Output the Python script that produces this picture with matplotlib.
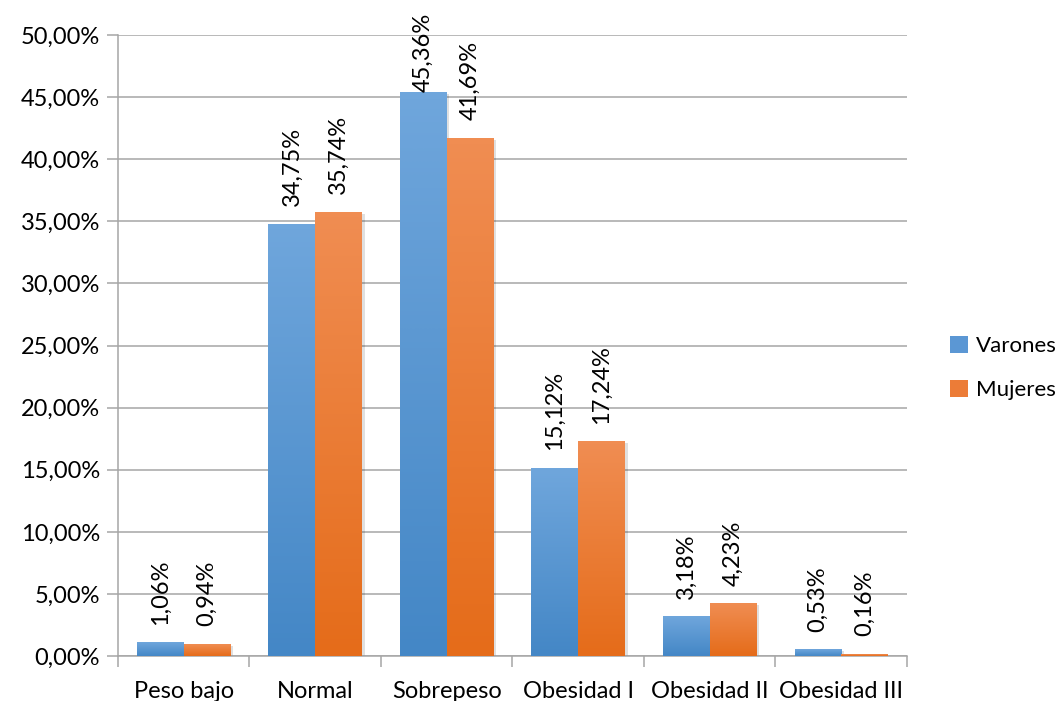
import matplotlib.pyplot as plt
import numpy as np
import matplotlib.patheffects as pe
from matplotlib.colors import LinearSegmentedColormap
from matplotlib.patches import Patch
from matplotlib.ticker import FuncFormatter, MultipleLocator

categorias = ["Peso bajo", "Normal", "Sobrepeso", "Obesidad I", "Obesidad II", "Obesidad III"]
varones = [1.06, 34.75, 45.36, 15.12, 3.18, 0.53]
mujeres = [0.94, 35.74, 41.69, 17.24, 4.23, 0.16]
series = ["Varones", "Mujeres"]

plt.rcParams['font.family'] = ['Lato', 'DejaVu Sans']
fs = 17

azul = LinearSegmentedColormap.from_list("azul", ["#4487c6", "#6fa6dc"])
naranja = LinearSegmentedColormap.from_list("naranja", ["#e56c1a", "#f08d52"])

fig = plt.figure(figsize=(10.62, 7.01), dpi=100)
ax = fig.add_axes([0.111, 0.064, 0.743, 0.886])

x = np.arange(len(categorias))
w = 0.355
grad = np.linspace(0, 1, 64).reshape(-1, 1)

def barras(pos, vals, cmap):
    bars = ax.bar(pos, vals, w, color="white", zorder=2,
                  path_effects=[pe.SimplePatchShadow(offset=(2, -1), shadow_rgbFace="k", alpha=0.12),
                                pe.Normal()])
    for b in bars:
        x0, h = b.get_x(), b.get_height()
        ax.imshow(grad, extent=[x0, x0 + b.get_width(), 0, h], origin="lower",
                  cmap=cmap, aspect="auto", zorder=3, interpolation="bilinear")
    for xi, v in zip(pos, vals):
        ax.text(xi, min(v + 1.45, 45.4), f"{v:.2f}%".replace(".", ","), rotation=90,
                ha="center", va="bottom", fontsize=fs, color="#000000", clip_on=False, zorder=4)
    return bars

barras(x - w / 2, varones, azul)
barras(x + w / 2, mujeres, naranja)

ax.set_xlim(-0.5, len(categorias) - 0.5)
ax.set_ylim(0, 50)
ax.yaxis.set_major_locator(MultipleLocator(5))
ax.yaxis.set_major_formatter(FuncFormatter(lambda v, p: f"{v:.2f}%".replace(".", ",")))
ax.grid(axis="y", color="#a6a6a6", linewidth=1.1, zorder=0)
ax.set_axisbelow(True)

ax.set_xticks(x)
ax.set_xticklabels(categorias)
ax.set_xticks(np.arange(-0.5, len(categorias)), minor=True)
ax.tick_params(axis="x", which="major", length=0, pad=18, labelsize=fs)
ax.tick_params(axis="x", which="minor", length=8, color="#a6a6a6", width=1.1)
ax.tick_params(axis="y", length=8, color="#a6a6a6", width=1.1, labelsize=fs, pad=5)

for s in ["top", "right"]:
    ax.spines[s].set_visible(False)
for s in ["left", "bottom"]:
    ax.spines[s].set_color("#a6a6a6")
    ax.spines[s].set_linewidth(1.1)

handles = [Patch(facecolor="#5b97d4", edgecolor="none"), Patch(facecolor="#ec7c37", edgecolor="none")]
fig.legend(handles, series, loc="center left", bbox_to_anchor=(0.895, 0.475), frameon=False,
           borderpad=0, borderaxespad=0, fontsize=16, handlelength=0.8, handleheight=0.8,
           handletextpad=0.35, labelspacing=1.05)

fig.savefig("out.png", dpi=100)
